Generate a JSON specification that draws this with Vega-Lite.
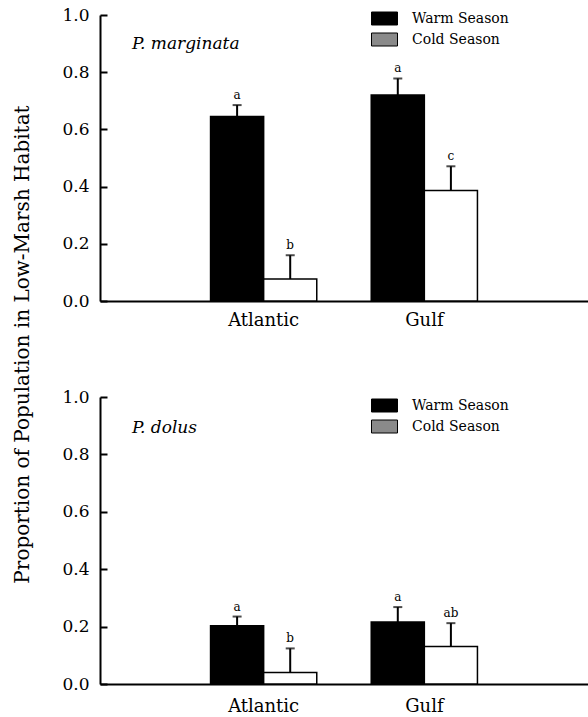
{
  "$schema": "https://vega.github.io/schema/vega-lite/v6.json",
  "padding": {"left": 12, "top": 6, "right": 0, "bottom": 0},
  "background": "white",
  "config": {
    "view": {"stroke": null},
    "font": "DejaVu Serif",
    "axis": {"domainColor": "black", "domainWidth": 2, "tickColor": "black", "tickWidth": 2, "labelColor": "black", "labelFont": "DejaVu Serif", "grid": false, "titleColor": "black", "titleFont": "DejaVu Serif", "titleFontWeight": "normal"},
    "legend": {"labelFont": "DejaVu Serif", "labelColor": "black"},
    "title": {"font": "DejaVu Serif", "color": "black"}
  },
  "datasets": {
    "bars": [
      {"species": "P. marginata", "region": "Atlantic", "season": "Warm Season", "value": 0.645, "upper": 0.685, "letter": "a"},
      {"species": "P. marginata", "region": "Atlantic", "season": "Cold Season", "value": 0.077, "upper": 0.16, "letter": "b"},
      {"species": "P. marginata", "region": "Gulf", "season": "Warm Season", "value": 0.72, "upper": 0.778, "letter": "a"},
      {"species": "P. marginata", "region": "Gulf", "season": "Cold Season", "value": 0.386, "upper": 0.471, "letter": "c"},
      {"species": "P. dolus", "region": "Atlantic", "season": "Warm Season", "value": 0.203, "upper": 0.235, "letter": "a"},
      {"species": "P. dolus", "region": "Atlantic", "season": "Cold Season", "value": 0.04, "upper": 0.124, "letter": "b"},
      {"species": "P. dolus", "region": "Gulf", "season": "Warm Season", "value": 0.216, "upper": 0.268, "letter": "a"},
      {"species": "P. dolus", "region": "Gulf", "season": "Cold Season", "value": 0.131, "upper": 0.212, "letter": "ab"}
    ]
  },
  "spacing": 96,
  "bounds": "flush",
  "resolve": {"scale": {"fill": "independent"}},
  "vconcat": [
    {
      "data": {"name": "bars"},
      "transform": [{"filter": "datum.species === 'P. marginata'"}],
      "width": 488,
      "height": 286,
      "title": {"text": "P. marginata", "anchor": "start", "frame": "group", "fontStyle": "italic", "fontWeight": "normal", "fontSize": 17, "baseline": "alphabetic", "offset": 0, "dx": 32, "dy": 60},
      "encoding": {
        "x": {"field": "region", "type": "nominal", "scale": {"domain": ["Atlantic", "Gulf"], "paddingInner": 0.339, "paddingOuter": 0.688}, "axis": {"title": null, "ticks": false, "labelAngle": 0, "labelFontSize": 18, "labelPadding": 10}},
        "xOffset": {"field": "season", "type": "nominal", "scale": {"domain": ["Warm Season", "Cold Season"], "paddingInner": 0, "paddingOuter": 0}},
        "y": {"field": "value", "type": "quantitative", "scale": {"domain": [0, 1], "nice": false}, "axis": {"title": "Proportion of Population in Low-Marsh Habitat", "titleFontSize": 20, "titleX": -68, "titleY": 329, "values": [0, 0.2, 0.4, 0.6, 0.8, 1.0], "format": ".1f", "tickSize": -7, "labelPadding": 18, "labelFontSize": 17}}
      },
      "resolve": {"scale": {"fill": "independent"}},
      "layer": [
        {
          "mark": {"type": "bar", "stroke": "black", "strokeWidth": 1.5},
          "encoding": {
            "fill": {"field": "season", "type": "nominal", "scale": {"domain": ["Warm Season", "Cold Season"], "range": ["black", "white"]}, "legend": null}
          }
        },
        {
          "transform": [{"filter": "false"}],
          "mark": {"type": "bar", "stroke": "black", "strokeWidth": 1},
          "encoding": {
            "fill": {"field": "season", "type": "nominal", "scale": {"domain": ["Warm Season", "Cold Season"], "range": ["black", "#8a8a8a"]},
              "legend": {"title": null, "orient": "none", "legendX": 274, "legendY": -7, "padding": 0, "symbolType": "M-1.3,-0.65H1.3V0.65H-1.3Z", "symbolSize": 400, "symbolStrokeColor": "black", "symbolStrokeWidth": 1, "labelOffset": 17, "labelFontSize": 14, "rowPadding": 2}}
          }
        },
        {
          "mark": {"type": "rule", "color": "black", "strokeWidth": 2},
          "encoding": {"y2": {"field": "upper"}}
        },
        {
          "mark": {"type": "tick", "color": "black", "orient": "horizontal", "size": 9, "thickness": 2},
          "encoding": {"y": {"field": "upper", "type": "quantitative"}}
        },
        {
          "mark": {"type": "text", "baseline": "bottom", "dy": -3, "fontSize": 12, "font": "DejaVu Serif", "fill": "black"},
          "encoding": {"y": {"field": "upper", "type": "quantitative"}, "text": {"field": "letter"}}
        }
      ]
    },
    {
      "data": {"name": "bars"},
      "transform": [{"filter": "datum.species === 'P. dolus'"}],
      "width": 488,
      "height": 287,
      "title": {"text": "P. dolus", "anchor": "start", "frame": "group", "fontStyle": "italic", "fontWeight": "normal", "fontSize": 17, "baseline": "alphabetic", "offset": 0, "dx": 32, "dy": 62},
      "encoding": {
        "x": {"field": "region", "type": "nominal", "scale": {"domain": ["Atlantic", "Gulf"], "paddingInner": 0.339, "paddingOuter": 0.688}, "axis": {"title": null, "ticks": false, "labelAngle": 0, "labelFontSize": 18, "labelPadding": 13}},
        "xOffset": {"field": "season", "type": "nominal", "scale": {"domain": ["Warm Season", "Cold Season"], "paddingInner": 0, "paddingOuter": 0}},
        "y": {"field": "value", "type": "quantitative", "scale": {"domain": [0, 1], "nice": false}, "axis": {"title": null, "values": [0, 0.2, 0.4, 0.6, 0.8, 1.0], "format": ".1f", "tickSize": -7, "labelPadding": 18, "labelFontSize": 17}}
      },
      "resolve": {"scale": {"fill": "independent"}},
      "layer": [
        {
          "mark": {"type": "bar", "stroke": "black", "strokeWidth": 1.5},
          "encoding": {
            "fill": {"field": "season", "type": "nominal", "scale": {"domain": ["Warm Season", "Cold Season"], "range": ["black", "white"]}, "legend": null}
          }
        },
        {
          "transform": [{"filter": "false"}],
          "mark": {"type": "bar", "stroke": "black", "strokeWidth": 1},
          "encoding": {
            "fill": {"field": "season", "type": "nominal", "scale": {"domain": ["Warm Season", "Cold Season"], "range": ["black", "#8a8a8a"]},
              "legend": {"title": null, "orient": "none", "legendX": 274, "legendY": -2, "padding": 0, "symbolType": "M-1.3,-0.65H1.3V0.65H-1.3Z", "symbolSize": 400, "symbolStrokeColor": "black", "symbolStrokeWidth": 1, "labelOffset": 17, "labelFontSize": 14, "rowPadding": 2}}
          }
        },
        {
          "mark": {"type": "rule", "color": "black", "strokeWidth": 2},
          "encoding": {"y2": {"field": "upper"}}
        },
        {
          "mark": {"type": "tick", "color": "black", "orient": "horizontal", "size": 9, "thickness": 2},
          "encoding": {"y": {"field": "upper", "type": "quantitative"}}
        },
        {
          "mark": {"type": "text", "baseline": "bottom", "dy": -3, "fontSize": 12, "font": "DejaVu Serif", "fill": "black"},
          "encoding": {"y": {"field": "upper", "type": "quantitative"}, "text": {"field": "letter"}}
        }
      ]
    }
  ]
}
